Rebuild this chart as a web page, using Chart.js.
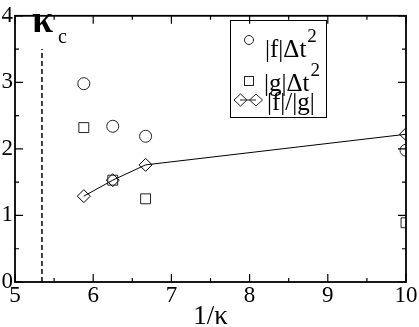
<!DOCTYPE html>
<html>
<head>
<meta charset="utf-8">
<script src="https://cdn.jsdelivr.net/npm/chart.js@4"></script>
<style>
  html, body { margin: 0; padding: 0; background: #fff; }
  #wrap { width: 419px; height: 327px; }
</style>
</head>
<body>
<div id="wrap"><canvas id="c" width="419" height="327"></canvas></div>
<script>
// x values are 1/kappa
const xs = [5.88, 6.25, 6.67, 10];
const fDt2 = [2.98, 2.34, 2.19, 1.98];
const gDt2 = [2.32, 1.53, 1.25, 0.89];
const fOverG = [1.29, 1.53, 1.76, 2.22];
const kappaC = 5.345;
const kappaCLineTop = 3.5;
const xTicks = [5, 6, 7, 8, 9, 10];
const yTicks = [0, 1, 2, 3, 4];

const serif = '"Liberation Serif"';
const toPts = (ys) => xs.map((x, i) => ({ x: x, y: ys[i] }));

function diamond(ctx, cx, cy, rx, ry) {
  ctx.moveTo(cx - rx, cy); ctx.lineTo(cx, cy - ry); ctx.lineTo(cx + rx, cy);
  ctx.lineTo(cx, cy + ry); ctx.closePath();
}

// text with a small superscript "2" after it
function textSq(ctx, s, x, base) {
  ctx.font = "25px " + serif;
  ctx.fillText(s, x, base);
  const w = ctx.measureText(s).width;
  ctx.font = "19px " + serif;
  ctx.fillText("2", x + w + 1, base - 15);
}

// tick marks pointing inwards on all four sides, frame, labels, legend
const frameTicks = {
  id: "frameTicks",
  afterDatasetsDraw(chart) {
    const { ctx, chartArea: a, scales: { x, y } } = chart;
    ctx.save();
    ctx.strokeStyle = "#000";
    ctx.lineWidth = 1.2;
    ctx.beginPath();
    for (let v = 5; v <= 10.001; v += 0.5) {
      const px = x.getPixelForValue(v);
      const len = Math.abs(v - Math.round(v)) < 0.01 ? 8 : 4;
      ctx.moveTo(px, a.bottom); ctx.lineTo(px, a.bottom - len);
      ctx.moveTo(px, a.top); ctx.lineTo(px, a.top + len);
    }
    for (let v = 0; v <= 4.001; v += 0.5) {
      const py = y.getPixelForValue(v);
      const len = Math.abs(v - Math.round(v)) < 0.01 ? 8 : 4;
      ctx.moveTo(a.left, py); ctx.lineTo(a.left + len, py);
      ctx.moveTo(a.right, py); ctx.lineTo(a.right - len, py);
    }
    ctx.stroke();
    ctx.lineWidth = 1.8;
    ctx.strokeRect(a.left, a.top, a.right - a.left, a.bottom - a.top);

    // kappa_c label
    ctx.fillStyle = "#000";
    ctx.textBaseline = "alphabetic";
    ctx.textAlign = "left";
    ctx.font = "bold 38px " + serif;
    ctx.fillText("\u03BA", 32, 32);
    ctx.font = "20px " + serif;
    ctx.fillText("c", 58, 43);

    // legend
    ctx.lineWidth = 1;
    ctx.strokeStyle = "#000";
    ctx.strokeRect(230.5, 20.5, 96, 97);
    textSq(ctx, "|f|\u0394t", 265, 57);
    textSq(ctx, "|g|\u0394t", 264, 91);
    ctx.font = "25px " + serif;
    ctx.fillText("|f|/|g|", 267, 110);

    ctx.strokeStyle = "#222";
    ctx.beginPath();
    ctx.arc(249, 40, 4.5, 0, Math.PI * 2);
    ctx.stroke();
    ctx.strokeRect(244.5, 76.5, 9, 9);
    ctx.beginPath();
    ctx.moveTo(240, 100); ctx.lineTo(256, 100);
    diamond(ctx, 240.5, 100, 6.5, 6);
    diamond(ctx, 256, 100, 6.5, 6);
    ctx.stroke();
    ctx.restore();
  }
};

new Chart(document.getElementById("c"), {
  type: "scatter",
  data: {
    datasets: [
      {
        label: "|f|Δt²",
        data: toPts(fDt2),
        pointStyle: "circle",
        pointRadius: 6,
        borderColor: "#222",
        backgroundColor: "rgba(0,0,0,0)",
        borderWidth: 1
      },
      {
        label: "|g|Δt²",
        data: toPts(gDt2),
        pointStyle: "rect",
        pointRadius: 7,
        borderColor: "#222",
        backgroundColor: "rgba(0,0,0,0)",
        borderWidth: 1
      },
      {
        label: "|f|/|g|",
        data: toPts(fOverG),
        showLine: true,
        pointStyle: "rectRot",
        pointRadius: 6.5,
        borderColor: "#000",
        backgroundColor: "rgba(0,0,0,0)",
        borderWidth: 1
      },
      {
        label: "kappa_c",
        data: [{ x: kappaC, y: 0 }, { x: kappaC, y: kappaCLineTop }],
        showLine: true,
        pointRadius: 0,
        borderColor: "#000",
        borderWidth: 1.5,
        borderDash: [5, 3]
      }
    ]
  },
  options: {
    responsive: false,
    animation: false,
    layout: { padding: { top: 10, right: 13, left: 0, bottom: 0 } },
    plugins: { legend: { display: false }, tooltip: { enabled: false } },
    scales: {
      x: {
        type: "linear",
        min: 5,
        max: 10,
        afterBuildTicks: (s) => { s.ticks = xTicks.map(v => ({ value: v })); },
        afterFit: (s) => { s.height = 45; },
        grid: { display: false, drawTicks: false },
        border: { display: false },
        ticks: { padding: 0, color: "#000", font: { family: serif, size: 23 } },
        title: {
          display: true,
          text: "1/\u03BA",
          color: "#000",
          font: { family: serif, size: 27, lineHeight: 1 },
          padding: { top: 0, bottom: -3 }
        }
      },
      y: {
        type: "linear",
        min: 0,
        max: 4,
        afterBuildTicks: (s) => { s.ticks = yTicks.map(v => ({ value: v })); },
        afterFit: (s) => { s.width = 15; },
        grid: { display: false, drawTicks: false },
        border: { display: false },
        ticks: { padding: 2, color: "#000", font: { family: serif, size: 23 } }
      }
    }
  },
  plugins: [frameTicks]
});
</script>
</body>
</html>
